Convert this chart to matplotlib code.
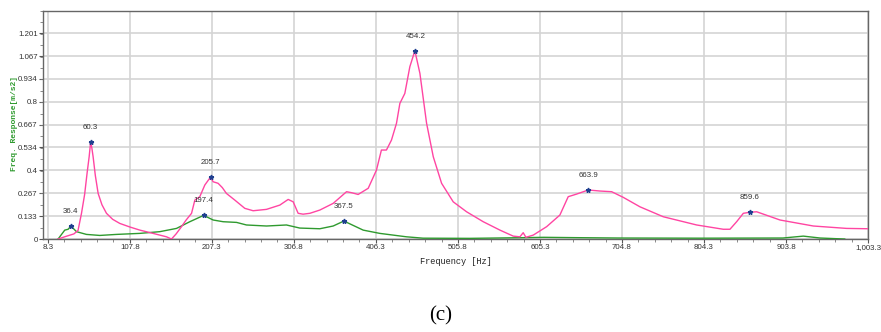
import matplotlib.pyplot as plt
from matplotlib.ticker import AutoMinorLocator

plt.rcParams['font.family'] = ['Liberation Sans', 'DejaVu Sans']

# pink trace (response, point A)
freq_a = [20.8, 30, 40, 45, 49.2, 53, 56, 58.5, 60.3, 61.8, 63.3, 66, 69.4, 74, 79.5, 87,
          95.7, 108, 120, 136, 152.3, 158.4, 164, 170.5, 176, 182.7, 186.7, 192.7, 198.8,
          205.7, 208.9, 214.9, 220, 225, 235.2, 247.3, 257.4, 273.6, 289.8, 299.9, 306,
          312, 318, 326.2, 338.3, 354.5, 370.7, 377, 384.8, 397, 407, 413, 419.1, 425.2,
          431.3, 435.4, 441.4, 447.5, 453.6, 459.7, 467.8, 475.9, 486, 500.1, 516.3,
          536.5, 556.8, 572.9, 581, 585, 588.3, 597.2, 613.4, 629.5, 639.6, 649.7, 663.9,
          678, 692.3, 706.4, 726.6, 754.9, 795.4, 827.7, 835.8, 843.9, 852, 859.6, 868.2,
          896.5, 936.9, 977.3, 1003.3]
resp_a = [0.0, 0.015, 0.03, 0.05, 0.15, 0.26, 0.385, 0.48, 0.567, 0.53, 0.48, 0.37, 0.266,
          0.2, 0.15, 0.115, 0.091, 0.07, 0.052, 0.033, 0.013, 0.0, 0.03, 0.072, 0.11, 0.15,
          0.227, 0.247, 0.315, 0.361, 0.334, 0.325, 0.3, 0.266, 0.227, 0.179, 0.165, 0.173,
          0.198, 0.231, 0.217, 0.15, 0.145, 0.15, 0.169, 0.208, 0.276, 0.27, 0.26, 0.296,
          0.402, 0.519, 0.519, 0.577, 0.675, 0.791, 0.849, 1.005, 1.098, 0.966, 0.675, 0.48,
          0.325, 0.217, 0.159, 0.101, 0.052, 0.017, 0.013, 0.037, 0.01, 0.023, 0.072, 0.14,
          0.247, 0.262, 0.286, 0.28, 0.276, 0.243, 0.188, 0.13, 0.082, 0.057, 0.057, 0.101,
          0.15, 0.156, 0.159, 0.111, 0.076, 0.062, 0.06]

# green trace (response, point B)
freq_b = [20.8, 28.9, 33, 36.4, 43.1, 55.2, 71.4, 91.7, 120, 144.2, 164.5, 180.6, 197.4,
          208.9, 221, 237.3, 249.3, 273.6, 297.8, 314, 338.3, 354.5, 367.5, 390.9, 411,
          443.4, 463.6, 520, 585, 610, 650, 700, 800, 900, 924.8, 945, 975]
resp_b = [0.0, 0.052, 0.057, 0.076, 0.043, 0.027, 0.021, 0.027, 0.033, 0.043, 0.062, 0.101,
          0.138, 0.111, 0.101, 0.097, 0.082, 0.076, 0.082, 0.064, 0.06, 0.076, 0.105, 0.052,
          0.033, 0.013, 0.005, 0.004, 0.008, 0.01, 0.008, 0.006, 0.005, 0.006, 0.017, 0.006, 0.0]

# labelled peaks
peaks_a = [(60.3, 0.567), (205.7, 0.361), (454.2, 1.098), (663.9, 0.286), (859.6, 0.156)]
peaks_b = [(36.4, 0.076), (197.4, 0.138), (367.5, 0.105)]

x_ticks = [8.3, 107.8, 207.3, 306.8, 406.3, 505.8, 605.3, 704.8, 804.3, 903.8, 1003.3]
x_tick_labels = ['8.3', '107.8', '207.3', '306.8', '406.3', '505.8', '605.3', '704.8',
                 '804.3', '903.8', '1,003.3']
y_ticks = [0, 0.133, 0.267, 0.4, 0.534, 0.667, 0.8, 0.934, 1.067, 1.201]
y_tick_labels = ['0', '0.133', '0.267', '0.4', '0.534', '0.667', '0.8', '0.934', '1.067', '1.201']

PINK = '#ff45a2'
GREEN = '#2f9a2f'

fig = plt.figure(figsize=(8.81, 3.32), dpi=100)
ax = fig.add_axes([0.0488, 0.280, 0.9365, 0.687])

ax.plot(freq_b, resp_b, color=GREEN, lw=1.0, zorder=3)
ax.plot(freq_a, resp_a, color=PINK, lw=1.0, zorder=4)

for f, r in peaks_a + peaks_b:
    ax.plot(f, r, marker='*', color='#1f3f8f', ms=3.5, zorder=5)
    ax.annotate(f'{f:.1f}', (f, r), xytext=(0, 10.5), textcoords='offset points',
                ha='center', va='center', fontsize=5.7, color='#333333', zorder=6)

ax.set_xlim(2.5, 1003.3)
ax.set_ylim(0, 1.33)
ax.set_xticks(x_ticks)
ax.set_xticklabels(x_tick_labels)
ax.set_yticks(y_ticks)
ax.set_yticklabels(y_tick_labels)
ax.xaxis.set_minor_locator(AutoMinorLocator(5))
ax.yaxis.set_minor_locator(AutoMinorLocator(2))
ax.tick_params(axis='both', which='major', labelsize=5.7, length=3, color='#555555',
               labelcolor='#333333', pad=0.8)
ax.tick_params(axis='both', which='minor', length=2, color='#777777')

ax.grid(True, which='major', color='#d4d4d4', lw=1.2, zorder=0)
for s in ax.spines.values():
    s.set_color('#666666')
    s.set_linewidth(1.0)

ax.set_xlabel('Frequency [Hz]', fontsize=6.2, family='Liberation Mono', labelpad=4,
              color='#222222')
fig.text(0.016, 0.627, 'Freq. Response[m/s2]', rotation=90, ha='center', va='center',
         fontsize=5.8, family='Liberation Mono', fontweight='bold', color=GREEN)

fig.text(0.50, 0.05, '(c)', ha='center', va='center', fontsize=15,
         family='Liberation Serif')

fig.savefig('out.png', dpi=100)
